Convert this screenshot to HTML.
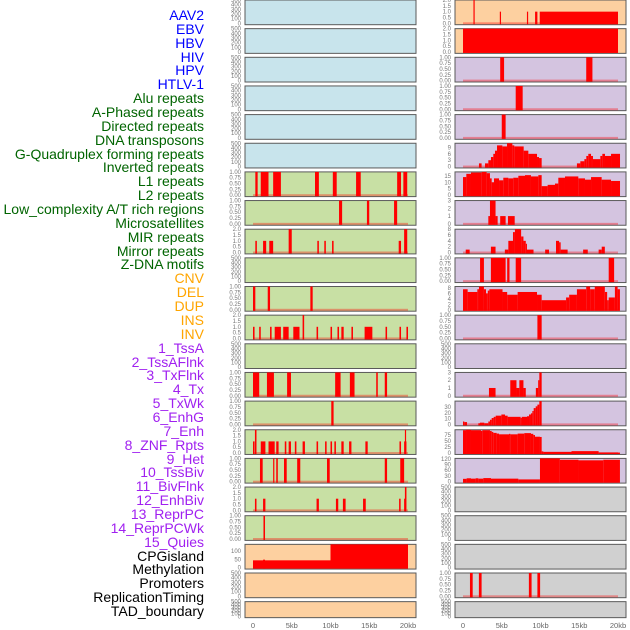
<!DOCTYPE html>
<html><head><meta charset="utf-8">
<style>
html,body{margin:0;padding:0;background:#fff;width:630px;height:630px;overflow:hidden}
#labels{position:absolute;left:0;top:0;width:204px;height:630px}
#labels div{position:absolute;right:0;font:14px "Liberation Sans",sans-serif;white-space:nowrap;line-height:14px}
svg{position:absolute;left:0;top:0}
</style></head>
<body>
<div id="labels"></div>
<svg id="chart" width="630" height="630"></svg>
<script>
// ---- label data ----
const labelNames=["AAV2","EBV","HBV","HIV","HPV","HTLV-1","Alu repeats","A-Phased repeats","Directed repeats","DNA transposons","G-Quadruplex forming repeats","Inverted repeats","L1 repeats","L2 repeats","Low_complexity A/T rich regions","Microsatellites","MIR repeats","Mirror repeats","Z-DNA motifs","CNV","DEL","DUP","INS","INV","1_TssA","2_TssAFlnk","3_TxFlnk","4_Tx","5_TxWk","6_EnhG","7_Enh","8_ZNF_Rpts","9_Het","10_TssBiv","11_BivFlnk","12_EnhBiv","13_ReprPC","14_ReprPCWk","15_Quies","CPGisland","Methylation","Promoters","ReplicationTiming","TAD_boundary"];
const labelGroupSizes=[6,13,5,15,5];
const labelGroupColors=["#0000ff","#006400","#ffa500","#a020f0","#000000"];

// ---- x axis ----
const xTickValues=[0,5,10,15,20];
const xTickLabels=["0","5kb","10kb","15kb","20kb"];

// ---- tick label sets ----
const tEmpty=["0","100","200","300","400","500"];
const t01=["0.00","0.25","0.50","0.75","1.00"];
const t02=["0.0","0.5","1.0","1.5","2.0"];
const tCpg=["0","50","100"];
const t9=["0","3","6","9"];
const t15=["0","5","10","15"];
const t3=["0","1","2","3"];
const t8=["0","2","4","6","8"];
const t30=["0","10","20","30"];
const t75=["0","25","50","75"];
const t120=["0","30","60","90","120"];

// ---- left column data (kb start, kb end, height) ----
const L6s=[0.3,1.0,2.6,8.0,10.3,13.3,18.6,19.4];
const L6e=[0.6,2.0,3.6,8.5,10.8,13.9,19.1,19.9];
const L6h=[1,1,1,1,1,1,1,1];
const L7s=[11.1,14.7,18.2];
const L7e=[11.5,15.0,18.6];
const L7h=[1,1,1];
const L8s=[0.3,1.3,2.1,4.6,8.3,9.2,10.2,18.8,19.5];
const L8e=[0.5,1.7,2.6,5.0,8.5,9.4,10.4,19.1,19.9];
const L8h=[1,1,1,2,1,1,1,1,2];
const L10s=[0,1.9,7.4];
const L10e=[0.3,2.2,7.7];
const L10h=[1,1,1];
const L11s=[0,0.8,2.2,2.8,3.9,5.2,6.4,8.2,10.0,10.9,11.4,12.7,14.4,17.1,18.9,19.8];
const L11e=[0.2,1.0,2.4,3.6,4.6,6.0,6.6,8.4,10.2,11.1,11.7,12.9,15.4,17.3,19.1,20.0];
const L11h=[1,1,1,1,1,1,2,1,1,1,1,1,1,1,1,1];
const L13s=[0,1.8,4.4,10.6,12.5,15.9,17.0];
const L13e=[0.8,2.7,4.9,11.3,13.1,16.1,17.3];
const L13h=[1,1,1,1,1,1,1];
const L14s=[10.1];
const L14e=[10.4];
const L14h=[1];
const L15s=[0,0.25,1.0,2.0,3.0,4.1,4.6,5.4,6.4,8.2,9.3,10.0,10.5,11.4,12.4,14.5,18.9,19.5,19.6];
const L15e=[0.2,0.45,1.6,2.8,3.3,4.3,4.9,5.6,6.7,8.4,9.5,10.2,10.7,11.7,12.7,14.8,19.1,19.8,19.75];
const L15h=[1,2,1,1,1,1,1,1,1,1,1,1,1,1,1,1,1,1,2];
const L16s=[0.9,2.6,3.0,4.0,5.7,9.55,17.0,19.0];
const L16e=[1.25,2.75,3.2,4.35,6.1,9.9,17.3,19.5];
const L16h=[1,1,1,1,1,1,1,1];
const L17s=[0.25,1.3,8.2,10.7,11.6,14.2,18.85,19.5,19.6];
const L17e=[0.45,1.6,8.5,11.0,11.95,14.55,19.05,19.7,19.8];
const L17h=[1,1,1,1,1,1,1,1,2];
const L18s=[1.35];
const L18e=[1.55];
const L18h=[1];
const L19s=[0,1.3,10.0];
const L19e=[10.0,1.55,20.0];
const L19h=[44,48,140];

// ---- right column data ----
const R0s=[1.35,4.75,8.25,9.3,9.9];
const R0e=[1.5,4.9,8.4,9.6,20.0];
const R0h=[2,1,1,1,1];
const R1s=[0];
const R1e=[20];
const R1h=[2];
const R2s=[4.8,15.9];
const R2e=[5.3,16.7];
const R2h=[1,1];
const R3s=[6.8];
const R3e=[7.7];
const R3h=[1];
const R4s=[5.0];
const R4e=[5.5];
const R4h=[1];
const R5s=[2.06,2.84,3.27,3.61,3.91,4.13,4.39,5.08,5.68,6.37,6.62,7.83,8.43,9.55,9.81,14.7,15.14,15.66,15.91,16.17,16.52,16.77,17.72,17.98,18.32,19.1];
const R5e=[2.4,3.27,3.61,3.91,4.13,4.39,5.08,5.68,6.37,6.62,7.83,8.43,9.55,9.81,10.15,15.14,15.66,15.91,16.17,16.52,16.77,17.72,17.98,18.32,19.1,20.26];
const R5h=[1.5,1.5,3,4.5,6,7.5,10,9.5,11,10,9.5,7.5,6,4.5,4,1.5,2.5,3.5,5,6,5,3.5,5,6,5,6];
const R6s=[0,0.43,1.03,2.41,3.05,3.48,3.7,4.0,4.65,5.2,5.85,6.49,7.14,8.0,8.77,9.72,10.15,10.92,11.87,12.3,13.16,14.88,15.74,16.52,17.89,19.1];
const R6e=[0.43,1.03,2.41,3.05,3.48,3.7,4.0,4.65,5.2,5.85,6.49,7.14,8.0,8.77,9.72,10.15,10.92,11.87,12.3,13.16,14.88,15.74,16.52,17.89,19.1,20.26];
const R6h=[14,16.5,17.5,18,17,13,10,13,11.5,13.5,13,13.5,15,15.5,14.5,15.5,7,8,9,13.5,14.5,13,12,14,12,11];
const R7s=[3.27,3.48,4.2,4.8,5.8];
const R7e=[3.48,4.2,4.47,5.5,6.67];
const R7h=[1,3,1,1,1];
const R8s=[0.35,3.6,5.4,5.85,6.45,6.7,7.5,7.8,8.1,8.25,10.6,12.0,12.4,12.6,15.5,17.5,17.9];
const R8e=[0.86,4.2,5.85,6.45,6.7,7.5,7.8,8.1,8.25,9.1,11.1,12.4,12.6,13.5,16.1,17.9,18.3];
const R8h=[1,2,1,4,7,8,5.5,4,3,1,1,4,3.5,1,1,1,2];
const R9s=[2.2,3.6,5.7,6.8,18.8];
const R9e=[2.7,5.5,6.0,7.5,19.5];
const R9h=[1,1,1,1,1];
const R10s=[0,0.6,1.85,2.06,2.7,2.97,3.2,3.4,5.1,5.7,7.05,9.55,10.15,13.3,13.7,14.7,15.9,16.4,17.0,18.3,18.6,18.8,19.6,19.95];
const R10e=[0.6,1.85,2.06,2.7,2.97,3.2,3.4,5.1,5.7,7.05,9.55,10.15,13.3,13.7,14.7,15.9,16.4,17.0,18.3,18.6,18.8,19.6,19.95,20.25];
const R10h=[7.5,6.5,7.5,8.5,7.5,6,7,7.5,6.5,5.5,6.5,5.5,3.5,4.5,5.5,7.5,8.5,7.5,8.5,6.5,3.5,4.5,8.5,7.5];
const R11s=[9.6];
const R11e=[10.15];
const R11h=[1];
const R13s=[3.35,6.1,6.9,7.27,7.8,9.4,9.7,9.85];
const R13e=[4.2,6.9,7.27,7.8,8.1,9.7,9.85,10.15];
const R13h=[1,2,1,2,1,1,2,3];
const R14s=[0,0.17,1.98,2.19,2.75,3.27,3.48,3.7,3.96,4.22,4.95,5.42,5.76,7.44,7.57,8.26,8.52,8.77,8.95,9.12,9.38,9.6,9.85];
const R14e=[0.17,0.52,2.19,2.75,3.27,3.48,3.7,3.96,4.22,4.95,5.42,5.76,7.44,7.57,8.26,8.52,8.77,8.95,9.12,9.38,9.6,9.85,10.15];
const R14h=[5,4,2,3,2,5,8,11,13,15,17,15,13,11,13,14,17,19,23,28,31,34,40];
const R15s=[0,0.39,1.03,2.32,2.49,3.48,3.7,3.91,4.34,4.65,5.94,6.11,7.05,7.91,8.77,9.07,9.29,9.93,10.15,10.37,14.0,17.5];
const R15e=[0.39,1.03,2.32,2.49,3.48,3.7,3.91,4.34,4.65,5.94,6.11,7.05,7.91,8.77,9.07,9.29,9.93,10.15,10.37,14.0,17.5,20.25];
const R15h=[95,97,95,92,95,92,88,84,81,78,80,78,81,83,80,75,68,67,7,5,8,2];
const R16s=[0,0.47,1.03,1.63,1.98,2.62,3.61,7.14,9.93,12.5,14.9,18.1];
const R16e=[0.47,1.03,1.63,1.98,2.62,3.61,7.14,9.93,12.5,14.9,18.1,20.25];
const R16h=[15,18,16,18,16,19,16,12,122,115,112,115];
const R20s=[0.9,2.05,8.5,9.6];
const R20e=[1.25,2.4,8.85,9.95];
const R20h=[1,1,1,1];

// panel spec: [col,row,ticks,starts,ends,heights]
const panels=[
 [0,6,t01,L6s,L6e,L6h],[0,7,t01,L7s,L7e,L7h],[0,8,t02,L8s,L8e,L8h],[0,10,t01,L10s,L10e,L10h],
 [0,11,t02,L11s,L11e,L11h],[0,13,t01,L13s,L13e,L13h],[0,14,t01,L14s,L14e,L14h],[0,15,t02,L15s,L15e,L15h],
 [0,16,t01,L16s,L16e,L16h],[0,17,t02,L17s,L17e,L17h],[0,18,t01,L18s,L18e,L18h],[0,19,tCpg,L19s,L19e,L19h],
 [1,0,t02,R0s,R0e,R0h],[1,1,t02,R1s,R1e,R1h],[1,2,t01,R2s,R2e,R2h],[1,3,t01,R3s,R3e,R3h],[1,4,t01,R4s,R4e,R4h],
 [1,5,t9,R5s,R5e,R5h],[1,6,t15,R6s,R6e,R6h],[1,7,t3,R7s,R7e,R7h],[1,8,t8,R8s,R8e,R8h],[1,9,t01,R9s,R9e,R9h],
 [1,10,t8,R10s,R10e,R10h],[1,11,t01,R11s,R11e,R11h],[1,13,t3,R13s,R13e,R13h],[1,14,t30,R14s,R14e,R14h],
 [1,15,t75,R15s,R15e,R15h],[1,16,t120,R16s,R16e,R16h],[1,20,t01,R20s,R20e,R20h]
];

const NS="http://www.w3.org/2000/svg";
const svg=document.getElementById('chart');
const colX=[245,455], colW=171, pitch=28.65;
function xScale(col,kb){return colX[col]+8+kb*7.75;}
function rowTop(r){return r*pitch;}
function rowH(r){return r===21?16:24.7;}
function bgColor(col,r){
  if(col===0){return r<=5?"#c8e4ec":(r<=18?"#c8e0a4":"#fdd0a0");}
  return r<=1?"#fdd0a0":(r<=16?"#d4c4e0":"#d0d0d0");
}
function mk(tag,attrs){const e=document.createElementNS(NS,tag);for(const k in attrs)e.setAttribute(k,attrs[k]);return e;}

// labels
const lab=document.getElementById('labels');
let gi=0,cnt=0;
labelNames.forEach((n,i)=>{
  if(cnt>=labelGroupSizes[gi]){gi++;cnt=0;}
  cnt++;
  const d=document.createElement('div');
  
  
  d.textContent=n;
  d.style.color=labelGroupColors[gi];
  d.style.top=(15+i*13.86-7)+"px";
  lab.appendChild(d);
});

const lookup={};
panels.forEach(p=>{lookup[p[0]+"_"+p[1]]=p;});

for(let col=0;col<2;col++){
  for(let r=0;r<22;r++){
    const p=lookup[col+"_"+r];
    const top=rowTop(r),h=rowH(r),x0=colX[col];
    const g=mk('g',{});
    
    
    svg.appendChild(g);
    const bg=mk('rect',{x:x0,y:top,width:colW,height:h,fill:bgColor(col,r),stroke:"#5a5a5a","stroke-width":1});
    
    
    g.appendChild(bg);
    const ticks=p?p[2]:tEmpty;
    const tv=ticks.map(Number);
    let ymax=tv[tv.length-1];
    if(p){ymax=Math.max(ymax,...p[5]);}
    const ymin=-0.06*ymax;
    const yS=v=>top+h-(v-ymin)/(ymax-ymin)*h;
    ticks.forEach((t,i)=>{
      const tx=mk('text',{x:x0-4,y:yS(tv[i])+2,"text-anchor":"end","font-size":"6","font-family":"Liberation Sans, sans-serif",fill:"#777"});
      
      
      tx.textContent=t;
      g.appendChild(tx);
    });
    if(p){
      const base=mk('rect',{x:xScale(col,0),y:yS(0)-1,width:xScale(col,20)-xScale(col,0),height:2,fill:"#ff0000",opacity:0.35});
      
      
      g.appendChild(base);
      const s=p[3],e=p[4],hh=p[5];
      for(let i=0;i<s.length;i++){
        const xa=xScale(col,s[i]),xb=xScale(col,e[i]);
        const y1=yS(hh[i]),y0=yS(0);
        const b=mk('rect',{x:xa,y:Math.max(y1,top),width:Math.max(xb-xa,1.2),height:y0-Math.max(y1,top)+1,fill:"#ff0000"});
        
        
        g.appendChild(b);
      }
    }
  }
  xTickValues.forEach((v,i)=>{
    const tx=mk('text',{x:xScale(col,v),y:628,"text-anchor":"middle","font-size":"7.5","font-family":"Liberation Sans, sans-serif",fill:"#666"});
    
    
    tx.textContent=xTickLabels[i];
    svg.appendChild(tx);
  });
}
</script>
</body></html>
